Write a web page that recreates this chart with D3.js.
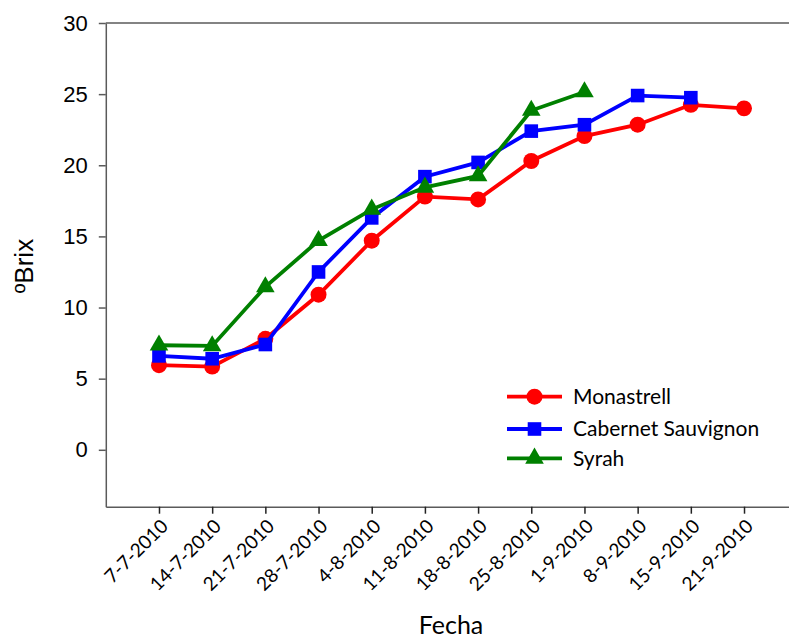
<!DOCTYPE html>
<html lang="es">
<head>
<meta charset="UTF-8">
<title>ºBrix</title>
<style>
  body { margin: 0; background: #fff; }
  .calibri { font-family: Lato, "Open Sans", sans-serif; }
</style>
</head>
<body>
<script src="https://cdn.jsdelivr.net/npm/d3@7/dist/d3.min.js"></script>
<script>

    var fechas = ["7-7-2010", "14-7-2010", "21-7-2010", "28-7-2010", "4-8-2010", "11-8-2010",
                  "18-8-2010", "25-8-2010", "1-9-2010", "8-9-2010", "15-9-2010", "21-9-2010"];
    var monastrell = [5.95, 5.85, 7.8, 10.9, 14.7, 17.8, 17.6, 20.3, 22.05, 22.85, 24.25, 24.0];
    var cabernet   = [6.6, 6.4, 7.4, 12.5, 16.3, 19.2, 20.2, 22.4, 22.85, 24.9, 24.75];
    var syrah      = [7.35, 7.3, 11.45, 14.7, 16.9, 18.45, 19.25, 23.85, 25.15];
    var yTicks = [0, 5, 10, 15, 20, 25, 30];

    var width = 789, height = 639;
    var plotLeft = 105.8, plotTop = 23, plotBottom = 506.7, plotRight = 797.2;

    var svg = d3.select("body").append("svg")
        .attr("width", width)
        .attr("height", height);

    var x = d3.scalePoint()
        .domain(fechas)
        .range([plotLeft, plotRight])
        .padding(1);

    var y = d3.scaleLinear()
        .domain([-4, 30])
        .range([plotBottom, plotTop]);

    // frame
    var axisColor = "#5a5a5a";
    svg.append("line").attr("x1", plotLeft).attr("x2", width + 10).attr("y1", plotTop).attr("y2", plotTop)
        .attr("stroke", axisColor).attr("stroke-width", 1.5);

    var yAxis = d3.axisLeft(y).tickValues(yTicks).tickSize(7).tickSizeOuter(0).tickPadding(11);
    var gy = svg.append("g")
        .attr("transform", "translate(" + plotLeft + ",0)")
        .call(yAxis);
    gy.select(".domain").attr("stroke", axisColor).attr("stroke-width", 1.5);
    gy.selectAll(".tick line").attr("stroke", axisColor).attr("stroke-width", 1.5);
    gy.selectAll(".tick text")
        .style("font-family", "'Liberation Sans', Arial, sans-serif")
        .style("font-size", "22px")
        .attr("fill", "#000");

    var xAxis = d3.axisBottom(x).tickSize(7).tickSizeOuter(0).tickPadding(6);
    var gx = svg.append("g")
        .attr("transform", "translate(0," + plotBottom + ")")
        .call(xAxis);
    gx.select(".domain").attr("stroke", axisColor).attr("stroke-width", 1.5);
    gx.selectAll(".tick line").attr("stroke", "#222").attr("stroke-width", 1.5);
    gx.selectAll(".tick text")
        .attr("class", "calibri")
        .style("font-size", "19px")
        .attr("fill", "#000")
        .attr("text-anchor", "end")
        .attr("y", 0)
        .attr("dy", "0.35em")
        .attr("transform", "translate(5,16) rotate(-45)");

    // axis titles
    svg.append("text")
        .attr("transform", "translate(33,266) rotate(-90)")
        .attr("text-anchor", "middle")
        .style("font-family", "'Liberation Sans', Arial, sans-serif")
        .style("font-size", "26px")
        .text("ºBrix");

    svg.append("text")
        .attr("class", "calibri")
        .attr("x", 451)
        .attr("y", 634)
        .attr("text-anchor", "middle")
        .style("font-size", "25px")
        .text("Fecha");

    // series
    var series = [
        { name: "Monastrell", values: monastrell, color: "#ff0000", shape: d3.symbolCircle, size: 200 },
        { name: "Cabernet Sauvignon", values: cabernet, color: "#0000ff", shape: d3.symbolSquare, size: 185 },
        { name: "Syrah", values: syrah, color: "#008000", shape: d3.symbolTriangle, size: 150 }
    ];

    var line = d3.line()
        .x(function(d, i){ return x(fechas[i]); })
        .y(function(d){ return y(d); });

    series.forEach(function(s){
        var g = svg.append("g");
        g.append("path")
            .attr("d", line(s.values))
            .attr("fill", "none")
            .attr("stroke", s.color)
            .attr("stroke-width", 3.8);
        g.selectAll("path.marker")
            .data(s.values)
            .enter()
            .append("path")
            .attr("class", "marker")
            .attr("d", d3.symbol().type(s.shape).size(s.size))
            .attr("transform", function(d, i){ return "translate(" + x(fechas[i]) + "," + y(d) + ")"; })
            .attr("fill", s.color);
    });

    // legend
    var legend = svg.append("g");
    var rowsY = [396.7, 429, 458.3];
    series.forEach(function(s, i){
        var row = legend.append("g").attr("transform", "translate(0," + rowsY[i] + ")");
        row.append("line")
            .attr("x1", 507).attr("x2", 562)
            .attr("stroke", s.color).attr("stroke-width", 3.8);
        row.append("path")
            .attr("d", d3.symbol().type(s.shape).size(s.size))
            .attr("transform", "translate(534.5,0)")
            .attr("fill", s.color);
        row.append("text")
            .attr("class", "calibri")
            .attr("x", 573)
            .attr("dy", "0.35em")
            .style("font-size", "21px")
            .text(s.name);
    });

</script>
</body>
</html>
